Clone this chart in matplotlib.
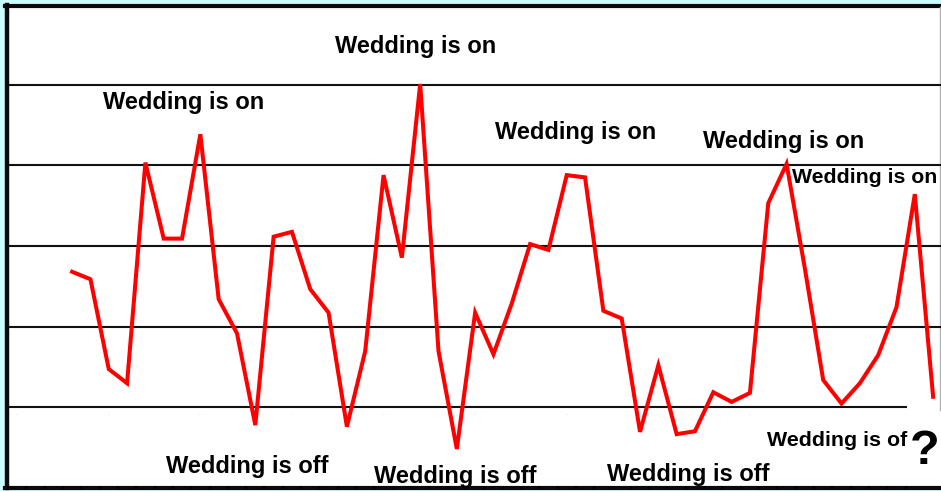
import matplotlib
matplotlib.use("Agg")
import matplotlib.pyplot as plt
from matplotlib.patches import Rectangle
from matplotlib.lines import Line2D
import numpy as np

plt.rcParams['font.family'] = ['Liberation Sans', 'DejaVu Sans']

# ---- data ----
values = [42.0, 39.7, 11.8, 7.4, 75.9, 52.3, 52.3, 84.7, 33.5, 22.9,
          -5.6, 52.9, 54.4, 36.6, 29.3, -6.1, 17.4, 72.0, 46.4, 100.3,
          17.4, -13.0, 29.3, 16.4, 32.2, 50.6, 48.8, 72.0, 71.3, 29.9,
          27.5, -7.7, 13.0, -8.4, -7.5, 4.6, 1.6, 4.4, 63.3, 75.5,
          43.0, 8.4, 1.1, 7.4, 16.1, 31.0, 66.1, 3.2]
grid_levels = [25, 50, 75, 100]
label_positions = list(range(-3, 43, 5))
on_labels = ["Wedding is on"] * 5
off_labels = ["Wedding is off"] * 3 + ["Wedding is of"]

W, H = 941, 491
fig = plt.figure(figsize=(W / 100, H / 100), dpi=100, facecolor='#ccffff')

def fx(x):
    return x / W

def fy(y):
    return 1 - y / H

# white panel with frame
fig.patches.append(Rectangle((fx(6), fy(488)), fx(945) - fx(6), fy(5) - fy(488),
                             transform=fig.transFigure, facecolor='white',
                             edgecolor='none', zorder=-2))
for (x0, y0, x1, y1, lw, c) in [
        (6.5, 5, 6.5, 488, 3.2, '#0a0a0a'),
        (5, 5.5, 945, 5.5, 3.0, '#0a0a0a'),
        (5, 487.5, 945, 487.5, 3.0, '#0a0a0a'),
        (940, 7, 940, 410, 1.0, '#b0b0b0')]:
    fig.lines.append(Line2D([fx(x0), fx(x1)], [fy(y0), fy(y1)],
                            transform=fig.transFigure, lw=lw, color=c, zorder=-1))

ax = fig.add_axes([fx(8), fy(486), fx(941) - fx(8), fy(7) - fy(486)])
ax.set_zorder(1)
ax.set_facecolor('none')
for s in ax.spines.values():
    s.set_visible(False)

x = np.arange(len(values))
ax.set_xlim(-3.47, 47.43)
ax.set_ylim(-24.5, 124.2)

for g in grid_levels:
    ax.axhline(g, color='#111111', lw=1.5, zorder=1)
ax.hlines(0, -3.47, 45.6, color='#111111', lw=1.5, zorder=1)

ax.plot(x, values, color='#ff0000', lw=2.9, solid_joinstyle='miter', zorder=3)

ax.set_yticks([])
ax.set_xticks(np.arange(-3.5, 45.6, 1.0))
ax.set_xticklabels([])
ax.tick_params(axis='x', length=2.2, width=1.5, color='#000000', direction='out')
for p in label_positions:
    ax.text(p, -1.8, '··', fontsize=3, color='#888888', ha='center', va='top')

# annotations
txt = dict(fontweight='bold', color='black', va='center', ha='left', zorder=5)
fs_big = 17
fig.text(fx(335), fy(46), on_labels[0], fontsize=fs_big, **txt)
fig.text(fx(103), fy(103), on_labels[1], fontsize=fs_big, **txt)
fig.text(fx(495), fy(133), on_labels[2], fontsize=fs_big, **txt)
fig.text(fx(703), fy(142), on_labels[3], fontsize=fs_big, **txt)
fig.text(fx(792), fy(177), on_labels[4], fontsize=15.3, **txt)
fig.text(fx(166), fy(467), off_labels[0], fontsize=fs_big, **txt)
fig.text(fx(374), fy(477), off_labels[1], fontsize=fs_big, **txt)
fig.text(fx(607), fy(474), off_labels[2], fontsize=fs_big, **txt)
fig.text(fx(767), fy(440), off_labels[3], fontsize=15.4, **txt)
fig.text(fx(910), fy(452), '?', fontsize=35, fontweight='bold', color='black',
         ha='left', va='center', zorder=5)

fig.savefig('out.png', dpi=100, facecolor=fig.get_facecolor())
